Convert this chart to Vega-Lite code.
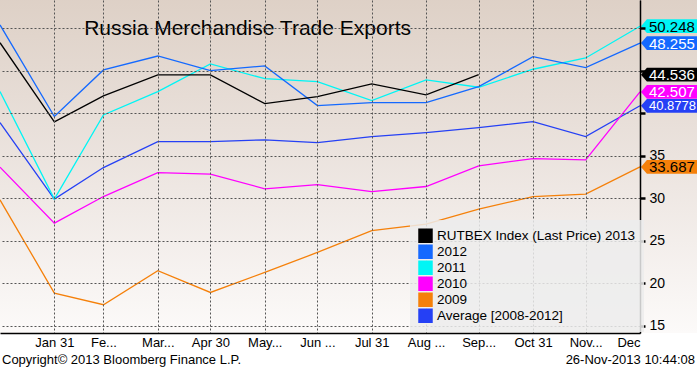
{
  "$schema": "https://vega.github.io/schema/vega-lite/v6.json",
  "width": 640,
  "height": 333,
  "autosize": {"type": "none"},
  "padding": {"left": 0, "top": 0, "right": 57, "bottom": 36},
  "background": "white",
  "config": {"view": {"stroke": null}, "font": "Liberation Sans"},
  "datasets": {
    "lines": [
      {"series": "Average [2008-2012]", "date": "2012-12-31", "value": 38.9},
      {"series": "Average [2008-2012]", "date": "2013-01-31", "value": 29.9},
      {"series": "Average [2008-2012]", "date": "2013-02-28", "value": 33.61},
      {"series": "Average [2008-2012]", "date": "2013-03-31", "value": 36.67},
      {"series": "Average [2008-2012]", "date": "2013-04-30", "value": 36.67},
      {"series": "Average [2008-2012]", "date": "2013-05-31", "value": 36.87},
      {"series": "Average [2008-2012]", "date": "2013-06-30", "value": 36.55},
      {"series": "Average [2008-2012]", "date": "2013-07-31", "value": 37.26},
      {"series": "Average [2008-2012]", "date": "2013-08-31", "value": 37.73},
      {"series": "Average [2008-2012]", "date": "2013-09-30", "value": 38.31},
      {"series": "Average [2008-2012]", "date": "2013-10-31", "value": 39.02},
      {"series": "Average [2008-2012]", "date": "2013-11-30", "value": 37.26},
      {"series": "Average [2008-2012]", "date": "2013-12-31", "value": 40.8778},
      {"series": "2009", "date": "2012-12-31", "value": 29.81},
      {"series": "2009", "date": "2013-01-31", "value": 18.84},
      {"series": "2009", "date": "2013-02-28", "value": 17.47},
      {"series": "2009", "date": "2013-03-31", "value": 21.47},
      {"series": "2009", "date": "2013-04-30", "value": 18.91},
      {"series": "2009", "date": "2013-05-31", "value": 21.27},
      {"series": "2009", "date": "2013-06-30", "value": 23.62},
      {"series": "2009", "date": "2013-07-31", "value": 26.2},
      {"series": "2009", "date": "2013-08-31", "value": 26.96},
      {"series": "2009", "date": "2013-09-30", "value": 28.72},
      {"series": "2009", "date": "2013-10-31", "value": 30.2},
      {"series": "2009", "date": "2013-11-30", "value": 30.48},
      {"series": "2009", "date": "2013-12-31", "value": 33.687},
      {"series": "2010", "date": "2012-12-31", "value": 33.66},
      {"series": "2010", "date": "2013-01-31", "value": 27.07},
      {"series": "2010", "date": "2013-02-28", "value": 30.2},
      {"series": "2010", "date": "2013-03-31", "value": 33.02},
      {"series": "2010", "date": "2013-04-30", "value": 32.83},
      {"series": "2010", "date": "2013-05-31", "value": 31.11},
      {"series": "2010", "date": "2013-06-30", "value": 31.61},
      {"series": "2010", "date": "2013-07-31", "value": 30.79},
      {"series": "2010", "date": "2013-08-31", "value": 31.38},
      {"series": "2010", "date": "2013-09-30", "value": 33.81},
      {"series": "2010", "date": "2013-10-31", "value": 34.67},
      {"series": "2010", "date": "2013-11-30", "value": 34.52},
      {"series": "2010", "date": "2013-12-31", "value": 42.507},
      {"series": "2011", "date": "2012-12-31", "value": 42.55},
      {"series": "2011", "date": "2013-01-31", "value": 29.9},
      {"series": "2011", "date": "2013-02-28", "value": 39.8},
      {"series": "2011", "date": "2013-03-31", "value": 42.55},
      {"series": "2011", "date": "2013-04-30", "value": 45.8},
      {"series": "2011", "date": "2013-05-31", "value": 44.07},
      {"series": "2011", "date": "2013-06-30", "value": 43.72},
      {"series": "2011", "date": "2013-07-31", "value": 41.49},
      {"series": "2011", "date": "2013-08-31", "value": 43.92},
      {"series": "2011", "date": "2013-09-30", "value": 43.06},
      {"series": "2011", "date": "2013-10-31", "value": 45.18},
      {"series": "2011", "date": "2013-11-30", "value": 46.51},
      {"series": "2011", "date": "2013-12-31", "value": 50.248},
      {"series": "2012", "date": "2012-12-31", "value": 50.4},
      {"series": "2012", "date": "2013-01-31", "value": 39.61},
      {"series": "2012", "date": "2013-02-28", "value": 45.1},
      {"series": "2012", "date": "2013-03-31", "value": 46.74},
      {"series": "2012", "date": "2013-04-30", "value": 45.01},
      {"series": "2012", "date": "2013-05-31", "value": 45.57},
      {"series": "2012", "date": "2013-06-30", "value": 40.9},
      {"series": "2012", "date": "2013-07-31", "value": 41.25},
      {"series": "2012", "date": "2013-08-31", "value": 41.25},
      {"series": "2012", "date": "2013-09-30", "value": 43.13},
      {"series": "2012", "date": "2013-10-31", "value": 46.66},
      {"series": "2012", "date": "2013-11-30", "value": 45.37},
      {"series": "2012", "date": "2013-12-31", "value": 48.255},
      {"series": "RUTBEX Index (Last Price) 2013", "date": "2012-12-31", "value": 48.3},
      {"series": "RUTBEX Index (Last Price) 2013", "date": "2013-01-31", "value": 38.98},
      {"series": "RUTBEX Index (Last Price) 2013", "date": "2013-02-28", "value": 42.04},
      {"series": "RUTBEX Index (Last Price) 2013", "date": "2013-03-31", "value": 44.51},
      {"series": "RUTBEX Index (Last Price) 2013", "date": "2013-04-30", "value": 44.51},
      {"series": "RUTBEX Index (Last Price) 2013", "date": "2013-05-31", "value": 41.13},
      {"series": "RUTBEX Index (Last Price) 2013", "date": "2013-06-30", "value": 41.96},
      {"series": "RUTBEX Index (Last Price) 2013", "date": "2013-07-31", "value": 43.45},
      {"series": "RUTBEX Index (Last Price) 2013", "date": "2013-08-31", "value": 42.16},
      {"series": "RUTBEX Index (Last Price) 2013", "date": "2013-09-30", "value": 44.536}
    ],
    "tags": [
      {"series": "2009", "value": 33.687, "label": "33.687"},
      {"series": "2010", "value": 42.507, "label": "42.507"},
      {"series": "Average [2008-2012]", "value": 40.8778, "label": "40.8778"},
      {"series": "RUTBEX Index (Last Price) 2013", "value": 44.536, "label": "44.536"},
      {"series": "2012", "value": 48.255, "label": "48.255"},
      {"series": "2011", "value": 50.248, "label": "50.248"}
    ]
  },
  "layer": [
    {
      "data": {"values": [{}]},
      "mark": {
        "type": "rect",
        "fill": {
          "gradient": "linear", "x1": 0, "y1": 0, "x2": 0, "y2": 1,
          "stops": [
            {"offset": 0, "color": "#dccec3"},
            {"offset": 0.5, "color": "#ebe3de"},
            {"offset": 1, "color": "#fcfaf9"}
          ]
        }
      },
      "encoding": {
        "x": {"datum": {"year": 2012, "month": 12, "date": 31, "utc": true}, "type": "temporal"},
        "x2": {"datum": {"year": 2014, "month": 2, "date": 5, "utc": true}},
        "y": {"datum": 56, "type": "quantitative"},
        "y2": {"datum": 14.14}
      }
    },
    {
      "data": {"name": "lines"},
      "mark": {"type": "line", "strokeWidth": 1.3},
      "encoding": {
        "x": {
          "field": "date", "type": "temporal",
          "scale": {
            "type": "utc",
            "domain": [
              {"year": 2012, "month": 12, "date": 31, "utc": true},
              {"year": 2013, "month": 12, "date": 31, "utc": true}
            ]
          },
          "axis": {
            "title": null,
            "values": [
              {"year": 2013, "month": 1, "date": 31, "utc": true},
              {"year": 2013, "month": 2, "date": 28, "utc": true},
              {"year": 2013, "month": 3, "date": 31, "utc": true},
              {"year": 2013, "month": 4, "date": 30, "utc": true},
              {"year": 2013, "month": 5, "date": 31, "utc": true},
              {"year": 2013, "month": 6, "date": 30, "utc": true},
              {"year": 2013, "month": 7, "date": 31, "utc": true},
              {"year": 2013, "month": 8, "date": 31, "utc": true},
              {"year": 2013, "month": 9, "date": 30, "utc": true},
              {"year": 2013, "month": 10, "date": 31, "utc": true},
              {"year": 2013, "month": 11, "date": 30, "utc": true},
              {"year": 2013, "month": 12, "date": 31, "utc": true}
            ],
            "labelExpr": "['', 'Jan 31', 'Fe...', 'Mar...', 'Apr 30', 'May...', 'Jun ...', 'Jul 31', 'Aug ...', 'Sep...', 'Oct 31', 'Nov...', 'Dec'][utcmonth(datum.value) + 1]",
            "labelFlush": true,
            "labelOverlap": false,
            "labelFontSize": 13,
            "labelColor": "black",
            "labelPadding": 3,
            "ticks": false,
            "grid": true,
            "gridColor": "#555555",
            "gridDash": [2, 2],
            "gridWidth": 1,
            "domainColor": "black",
            "domainWidth": 1.5,
            "zindex": 1
          }
        },
        "y": {
          "field": "value", "type": "quantitative",
          "scale": {"domain": [14.14, 53.33], "nice": false, "zero": false},
          "axis": {
            "title": null,
            "orient": "right",
            "values": [15, 17.5, 20, 22.5, 25, 27.5, 30, 32.5, 35, 37.5, 40, 42.5, 45, 47.5, 50, 52.5],
            "labelExpr": "(datum.value % 5 === 0 && datum.value < 40) ? datum.label : ''",
            "labelFontSize": 14,
            "labelColor": "black",
            "labelPadding": 4,
            "tickSize": 5,
            "tickColor": "black",
            "tickWidth": {"condition": {"test": "datum.value % 5 === 0", "value": 2.5}, "value": 1},
            "grid": true,
            "gridColor": "#555555",
            "gridDash": [2, 2],
            "gridWidth": 1,
            "gridOpacity": {"condition": {"test": "datum.value % 5 !== 0", "value": 0}, "value": 1},
            "domainColor": "black",
            "domainWidth": 1.5,
            "zindex": 1
          }
        },
        "color": {
          "field": "series", "type": "nominal",
          "scale": {
            "domain": ["RUTBEX Index (Last Price) 2013", "2012", "2011", "2010", "2009", "Average [2008-2012]"],
            "range": ["#000000", "#1469ff", "#00f5f5", "#ff00ff", "#f5800a", "#2540f5"]
          },
          "legend": {
            "title": null,
            "orient": "none",
            "legendX": 410,
            "legendY": 220,
            "fillColor": "rgba(236,236,236,0.85)",
            "padding": 8,
            "symbolType": "square",
            "symbolSize": 169,
            "labelFontSize": 13.5,
            "labelColor": "black",
            "labelOffset": 4,
            "labelLimit": 300,
            "rowPadding": 0,
            "clipHeight": 15.7,
            "zindex": 2,
            "encode": {
              "symbols": {
                "update": {
                  "fill": {"scale": "color", "field": "value"},
                  "stroke": {"value": "transparent"},
                  "shape": {"value": "square"},
                  "opacity": {"value": 1}
                }
              }
            }
          }
        }
      }
    },
    {
      "data": {"name": "tags"},
      "mark": {
        "type": "point",
        "filled": true,
        "opacity": 1,
        "size": 3136,
        "xOffset": 29,
        "shape": "M-1,0 L-0.79,-0.245 L1,-0.245 L1,0.245 L-0.79,0.245 Z"
      },
      "encoding": {
        "x": {"datum": {"year": 2013, "month": 12, "date": 31, "utc": true}, "type": "temporal"},
        "y": {"field": "value", "type": "quantitative"},
        "color": {"field": "series", "type": "nominal"}
      }
    },
    {
      "data": {"name": "tags"},
      "mark": {"type": "text", "align": "left", "baseline": "middle", "xOffset": 9, "yOffset": 0.5},
      "encoding": {
        "x": {"datum": {"year": 2013, "month": 12, "date": 31, "utc": true}, "type": "temporal"},
        "y": {"field": "value", "type": "quantitative"},
        "text": {"field": "label"},
        "size": {"condition": {"test": "length(datum.label) > 6", "value": 13}, "value": 15},
        "color": {"condition": {"test": "datum.series === '2011' || datum.series === '2009'", "value": "black"}, "value": "white"}
      }
    },
    {
      "data": {"values": [{}]},
      "mark": {"type": "text", "text": "Russia Merchandise Trade Exports", "align": "left", "baseline": "alphabetic", "fontSize": 21, "color": "black"},
      "encoding": {
        "x": {"datum": {"year": 2013, "month": 2, "date": 17, "utc": true}, "type": "temporal"},
        "y": {"datum": 49.2, "type": "quantitative"}
      }
    },
    {
      "data": {"values": [{}]},
      "mark": {"type": "text", "text": "Copyright© 2013 Bloomberg Finance L.P.", "align": "left", "baseline": "middle", "fontSize": 13, "dx": 2, "color": "black"},
      "encoding": {
        "x": {"datum": {"year": 2012, "month": 12, "date": 31, "utc": true}, "type": "temporal"},
        "y": {"datum": 10.92, "type": "quantitative"}
      }
    },
    {
      "data": {"values": [{}]},
      "mark": {"type": "text", "text": "26-Nov-2013 10:44:08", "align": "right", "baseline": "middle", "fontSize": 13, "dx": 55, "color": "black"},
      "encoding": {
        "x": {"datum": {"year": 2013, "month": 12, "date": 31, "utc": true}, "type": "temporal"},
        "y": {"datum": 10.92, "type": "quantitative"}
      }
    }
  ]
}
